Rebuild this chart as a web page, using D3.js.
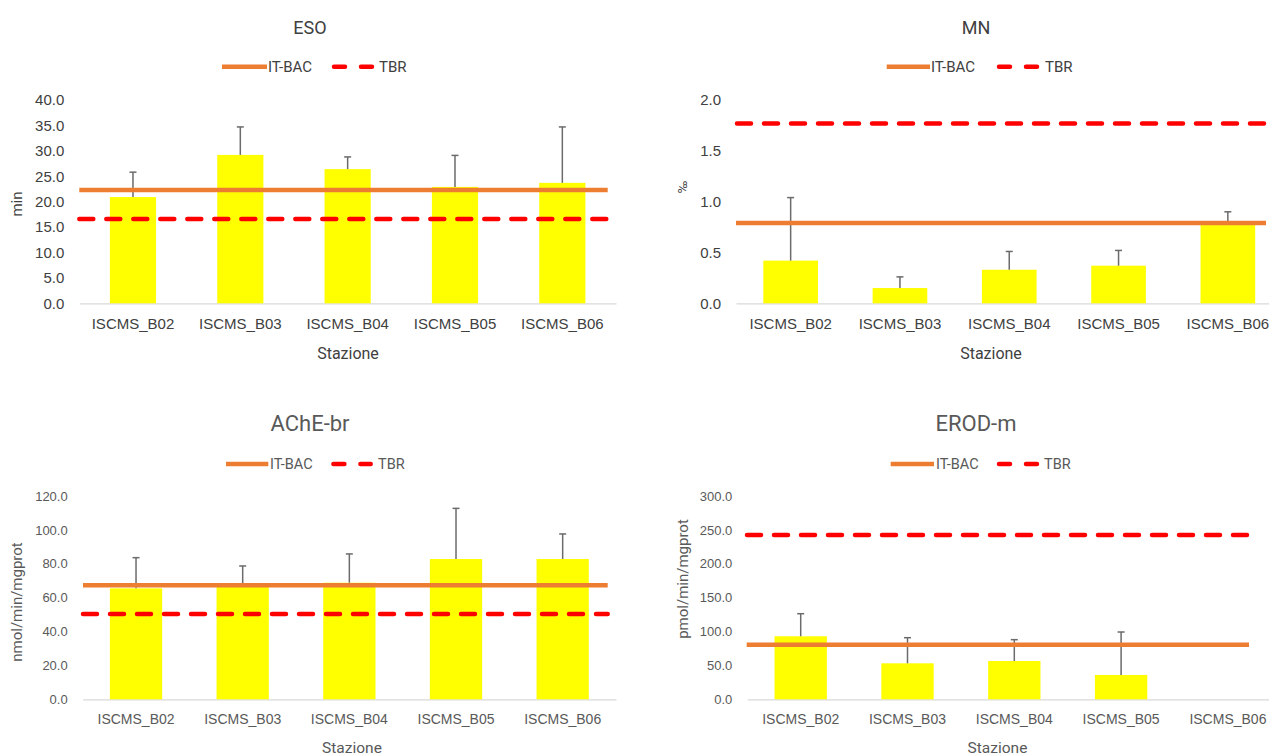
<!DOCTYPE html>
<html>
<head>
<meta charset="utf-8">
<script src="https://cdn.jsdelivr.net/npm/d3@7"></script>
<style>
  html, body { margin: 0; padding: 0; background: #fff; overflow: hidden; }
  svg { display: block; font-family: Roboto, 'Open Sans', sans-serif; }
</style>
</head>
<body>
<div id="chart"></div>
<script>
// stations on the x axis (same for all four charts)
const stations = ['ISCMS_B02', 'ISCMS_B03', 'ISCMS_B04', 'ISCMS_B05', 'ISCMS_B06'];

// ESO (min)
const esoMean = [20.9, 29.2, 26.4, 22.9, 23.7];
const esoSd = [4.9, 5.5, 2.4, 6.2, 11.0];
const esoItBac = 22.3;
const esoTbr = 16.6;
const esoTicks = [0, 5, 10, 15, 20, 25, 30, 35, 40];

// MN (‰)
const mnMean = [0.42, 0.15, 0.33, 0.37, 0.77];
const mnSd = [0.62, 0.11, 0.18, 0.15, 0.13];
const mnItBac = 0.79;
const mnTbr = 1.77;
const mnTicks = [0, 0.5, 1.0, 1.5, 2.0];

// AChE-br (nmol/min/mg prot)
const acheMean = [65.5, 66.5, 68.8, 82.8, 82.8];
const acheSd = [18.1, 12.2, 17.0, 29.9, 14.8];
const acheItBac = 67.3;
const acheTbr = 50.4;
const acheTicks = [0, 20, 40, 60, 80, 100, 120];

// EROD-m (pmol/min/mg prot), no value for B06
const erodMean = [93.0, 53.1, 56.5, 35.9, null];
const erodSd = [33.3, 37.8, 31.5, 63.4, null];
const erodItBac = 80.6;
const erodTbr = 242.5;
const erodTicks = [0, 50, 100, 150, 200, 250, 300];

const ORANGE = '#ED7D31';
const RED = '#FF0000';
const YELLOW = '#FFFF00';

// two text looks: the upper charts are darker, the lower ones lighter grey
const styleTop = { color: '#404040', title: 18, tick: 15, xlab: 15, legend: 15, axis: 16, ytitle: 15 };
const styleBottom = { color: '#595959', title: 22, tick: 13, xlab: 14, legend: 14.5, axis: 15.5, ytitle: 15 };

const panels = [
  {
    title: 'ESO', unit: 'min', mean: esoMean, sd: esoSd, itBac: esoItBac, tbr: esoTbr, ticks: esoTicks,
    style: styleTop, unitSize: 15,
    box: { x0: 79.3, x1: 616, y0: 100, y1: 303.3, barFrac: 0.43 },
    lines: { it: [79.3, 607.7], tbr: [79.3, 615] },
    titlePos: [310, 27], legendY: 66.7, legendX: [222, 267, 268, 332, 374, 379],
    unitPos: [17, 204], xTitlePos: [348, 353]
  },
  {
    title: 'MN', unit: '‰', mean: mnMean, sd: mnSd, itBac: mnItBac, tbr: mnTbr, ticks: mnTicks,
    style: styleTop, unitSize: 13,
    box: { x0: 736, x1: 1282.5, y0: 100, y1: 303.3, barFrac: 0.5 },
    lines: { it: [736, 1266], tbr: [737, 1282] },
    titlePos: [976, 27], legendY: 66.7, legendX: [886.7, 930, 931, 997, 1040, 1045],
    unitPos: [682, 187], xTitlePos: [991, 353]
  },
  {
    title: 'AChE-br', unit: 'nmol/min/mgprot', mean: acheMean, sd: acheSd, itBac: acheItBac, tbr: acheTbr, ticks: acheTicks,
    style: styleBottom, unitSize: 15,
    box: { x0: 82.7, x1: 616, y0: 496, y1: 699.3, barFrac: 0.49 },
    lines: { it: [83, 607.7], tbr: [83, 607.7] },
    titlePos: [310, 423], legendY: 464, legendX: [226, 268.3, 270, 331.4, 372.7, 378],
    unitPos: [17, 602], xTitlePos: [352, 748]
  },
  {
    title: 'EROD-m', unit: 'pmol/min/mgprot', mean: erodMean, sd: erodSd, itBac: erodItBac, tbr: erodTbr, ticks: erodTicks,
    style: styleBottom, unitSize: 15,
    box: { x0: 747.3, x1: 1281.3, y0: 496, y1: 699.3, barFrac: 0.49 },
    lines: { it: [746.7, 1249], tbr: [747, 1252] },
    titlePos: [976, 423], legendY: 464, legendX: [890.7, 934, 936, 997, 1039, 1044],
    unitPos: [683, 579], xTitlePos: [997.5, 748]
  }
];

const W = 1269, H = 756;
const svg = d3.select('#chart').append('svg').attr('width', W).attr('height', H);

panels.forEach((p) => drawPanel(p));

function drawPanel(p) {
  const g = svg.append('g');
  const st = p.style;
  const b = p.box;

  const x = d3.scaleBand().domain(stations).range([b.x0, b.x1]).paddingInner(0).paddingOuter(0);
  const y = d3.scaleLinear().domain([0, d3.max(p.ticks)]).range([b.y1, b.y0]);
  const barW = x.bandwidth() * b.barFrac;
  const rows = stations.map((s, i) => ({ s, v: p.mean[i], e: p.sd[i] })).filter((d) => d.v != null);

  // y axis labels only (no axis line, no grid)
  const yAxis = g.append('g')
    .attr('transform', `translate(${b.x0},0)`)
    .call(d3.axisLeft(y).tickValues(p.ticks).tickFormat(d3.format('.1f')).tickSize(0).tickPadding(15));
  yAxis.select('.domain').remove();
  yAxis.selectAll('text').attr('font-size', st.tick).attr('fill', st.color).attr('font-family', null);

  // x axis with light baseline
  const xAxis = g.append('g')
    .attr('transform', `translate(0,${b.y1})`)
    .call(d3.axisBottom(x).tickSize(0).tickSizeOuter(0).tickPadding(15));
  xAxis.select('.domain').attr('stroke', '#d9d9d9').attr('stroke-width', 1.3);
  xAxis.selectAll('text').attr('font-size', st.xlab).attr('fill', st.color).attr('font-family', null);

  // bars
  g.append('g').selectAll('rect')
    .data(rows)
    .join('rect')
    .attr('x', (d) => x(d.s) + (x.bandwidth() - barW) / 2)
    .attr('y', (d) => y(d.v))
    .attr('width', barW)
    .attr('height', (d) => y(0) - y(d.v))
    .attr('fill', YELLOW);

  // upper error bars
  const err = g.append('g').attr('stroke', '#6b6b6b').attr('stroke-width', 1.5);
  err.selectAll('line.v')
    .data(rows)
    .join('line')
    .attr('class', 'v')
    .attr('x1', (d) => x(d.s) + x.bandwidth() / 2)
    .attr('x2', (d) => x(d.s) + x.bandwidth() / 2)
    .attr('y1', (d) => y(d.v))
    .attr('y2', (d) => y(d.v + d.e));
  err.selectAll('line.cap')
    .data(rows)
    .join('line')
    .attr('class', 'cap')
    .attr('x1', (d) => x(d.s) + x.bandwidth() / 2 - 3.5)
    .attr('x2', (d) => x(d.s) + x.bandwidth() / 2 + 3.5)
    .attr('y1', (d) => y(d.v + d.e))
    .attr('y2', (d) => y(d.v + d.e));

  // reference lines
  g.append('line')
    .attr('x1', p.lines.it[0]).attr('x2', p.lines.it[1])
    .attr('y1', y(p.itBac)).attr('y2', y(p.itBac))
    .attr('stroke', ORANGE).attr('stroke-width', 4.5);
  g.append('line')
    .attr('x1', p.lines.tbr[0]).attr('x2', p.lines.tbr[1])
    .attr('y1', y(p.tbr)).attr('y2', y(p.tbr))
    .attr('stroke', RED).attr('stroke-width', 4.5)
    .attr('stroke-dasharray', '14,13').attr('stroke-linecap', 'round');

  // title
  g.append('text')
    .attr('x', p.titlePos[0]).attr('y', p.titlePos[1])
    .attr('text-anchor', 'middle').attr('dominant-baseline', 'central')
    .attr('font-size', st.title).attr('fill', st.color)
    .text(p.title);

  // legend
  const lx = p.legendX;
  const ly = p.legendY;
  g.append('line').attr('x1', lx[0]).attr('x2', lx[1]).attr('y1', ly).attr('y2', ly)
    .attr('stroke', ORANGE).attr('stroke-width', 4.5);
  g.append('text').attr('x', lx[2]).attr('y', ly).attr('dominant-baseline', 'central')
    .attr('font-size', st.legend).attr('fill', st.color).text('IT-BAC');
  g.append('line').attr('x1', lx[3] + 2).attr('x2', lx[4] - 2).attr('y1', ly).attr('y2', ly)
    .attr('stroke', RED).attr('stroke-width', 4.5)
    .attr('stroke-dasharray', '11,16').attr('stroke-linecap', 'round');
  g.append('text').attr('x', lx[5]).attr('y', ly).attr('dominant-baseline', 'central')
    .attr('font-size', st.legend).attr('fill', st.color).text('TBR');

  // axis titles
  g.append('text')
    .attr('transform', `translate(${p.unitPos[0]},${p.unitPos[1]}) rotate(-90)`)
    .attr('text-anchor', 'middle').attr('dominant-baseline', 'central')
    .attr('font-size', p.unitSize).attr('fill', st.color)
    .text(p.unit);
  g.append('text')
    .attr('x', p.xTitlePos[0]).attr('y', p.xTitlePos[1])
    .attr('text-anchor', 'middle').attr('dominant-baseline', 'central')
    .attr('font-size', st.axis).attr('fill', st.color)
    .text('Stazione');
}
</script>
</body>
</html>
